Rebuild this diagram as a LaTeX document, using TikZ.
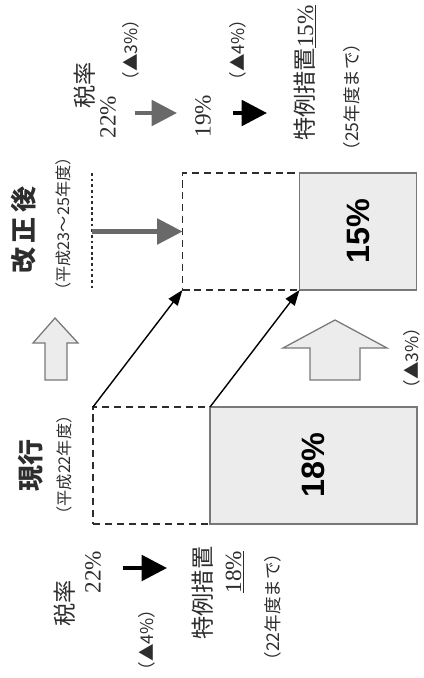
\documentclass[tikz,border=0pt]{standalone}
\usepackage{fontspec}
\setmainfont{Liberation Serif}
\newfontfamily\jp{Noto Sans CJK JP}
\newfontfamily\numsans{Liberation Sans}
\usetikzlibrary{arrows.meta, positioning}
\definecolor{barGray}{RGB}{236,236,236}
\definecolor{lineGray}{RGB}{120,120,120}
\definecolor{arrowGray}{RGB}{105,105,105}
\definecolor{inkGray}{RGB}{45,45,45}

\begin{document}
\begin{tikzpicture}[
    x=0.025cm, y=-0.025cm,
    vtext/.style={rotate=90, inner sep=0pt, text=inkGray},
    jtext/.style={vtext, font=\jp\fontsize{16.5}{18}\selectfont},
    note/.style={vtext, font=\jp\fontsize{12.5}{14}\selectfont},
    rate/.style={vtext, font=\fontsize{16.5}{18}\selectfont},
    heading/.style={vtext, font=\jp\bfseries\fontsize{18.5}{20}\selectfont},
    period/.style={vtext, font=\jp\fontsize{11.5}{12}\selectfont},
    barvalue/.style={vtext, text=black, font=\numsans\bfseries\fontsize{23}{25}\selectfont},
    dashbox/.style={draw=inkGray, dash pattern=on 5pt off 3.5pt, line width=1.1pt, minimum width=2.925cm, minimum height=2.925cm, inner sep=0pt, outer sep=0pt},
    bar/.style={draw=lineGray, fill=barGray, line width=1.1pt, minimum height=2.925cm, inner sep=0pt, outer sep=0pt},
    hollow/.style={draw=lineGray, fill=barGray, line width=0.9pt, line join=miter},
    slant/.style={-{Triangle[length=11pt, width=8pt]}, line width=1pt, black},
    taxarrow/.style={-{Triangle[length=18pt, width=18pt]}, line width=3pt}
]
    \useasboundingbox (0,0) rectangle (423,678);
    \clip (0,0) rectangle (423,678);

    % Current (FY22)
    \node[dashbox] (current) at (151.5,465.5) {};
    \node[bar, minimum width=5.175cm, right=0pt of current] (currentbar) {};
    \node[barvalue] (v18) at (currentbar) {18\%};
    \node[heading] (currenthead) at (31,465) {現行};
    \node[period] (currentperiod) at (64,465) {（平成22年度）};

    % Revised (FY23-25)
    \node[dashbox] (revised) at (241,231.5) {};
    \node[bar, minimum width=2.925cm, right=0pt of revised] (revisedbar) {};
    \node[barvalue] (v15) at (revisedbar) {15\%};
    \node[heading] (revisedhead) at (24,230) {改\,正\,後};
    \node[period] (revisedperiod) at (63,224) {（平成23～25年度）};

    % Shift of the boxes
    \draw[slant] (current.north west) -- (revised.south west);
    \draw[slant] (currentbar.north west) -- (revisedbar.south west);

    % Hollow arrows
    \draw[hollow] (55,318) -- (78,343) -- (67,343) -- (67,380) -- (45,380) -- (45,343) -- (33,343) -- cycle;
    \draw[hollow] (335,320) -- (387,348) -- (360,348) -- (360,380) -- (310,380) -- (310,348) -- (283,348) -- cycle;
    \node[note] (cut3b) at (412,358) {（▲3\%）};

    % Guide to the revised box
    \coordinate (guidetop) at (92,173);
    \coordinate (guidebot) at (92,290);
    \coordinate (guidemid) at (92,231.5);
    \draw[inkGray, dash pattern=on 2pt off 2pt, line width=1.3pt] (guidetop) -- (guidebot);
    \draw[taxarrow, arrowGray] (guidemid) -- (revised.west);

    % Tax rate, revised
    \node[jtext] (rateb) at (85,85) {税率};
    \node[rate] (rate22b) at (108,117) {22\%};
    \node[note] (cut3) at (131,50) {（▲3\%）};
    \coordinate (cutas) at (135,113);
    \coordinate (cutae) at (177,113);
    \draw[taxarrow, arrowGray] (cutas) -- (cutae);
    \node[rate] (rate19) at (203,116) {19\%};
    \node[note] (cut4b) at (238,50) {（▲4\%）};
    \coordinate (cutbs) at (233,113);
    \coordinate (cutbe) at (267,113);
    \draw[taxarrow, black] (cutbs) -- (cutbe);
    \node[jtext] (specialb) at (305,73) {特例措置{\rmfamily\underline{15\%}}};
    \node[note] (untilb) at (352,97) {（25年度まで）};

    % Tax rate, current
    \node[jtext] (ratea) at (65,603) {税率};
    \node[rate] (rate22a) at (93,572) {22\%};
    \coordinate (cutcs) at (123,568);
    \coordinate (cutce) at (167,568);
    \draw[taxarrow, black] (cutcs) -- (cutce);
    \node[note] (cut4a) at (147,640) {（▲4\%）};
    \node[jtext] (speciala) at (203,593) {特例措置};
    \node[rate] (rate18) at (235,572) {\underline{18\%}};
    \node[note] (untila) at (273,607) {（22年度まで）};
\end{tikzpicture}
\end{document}
